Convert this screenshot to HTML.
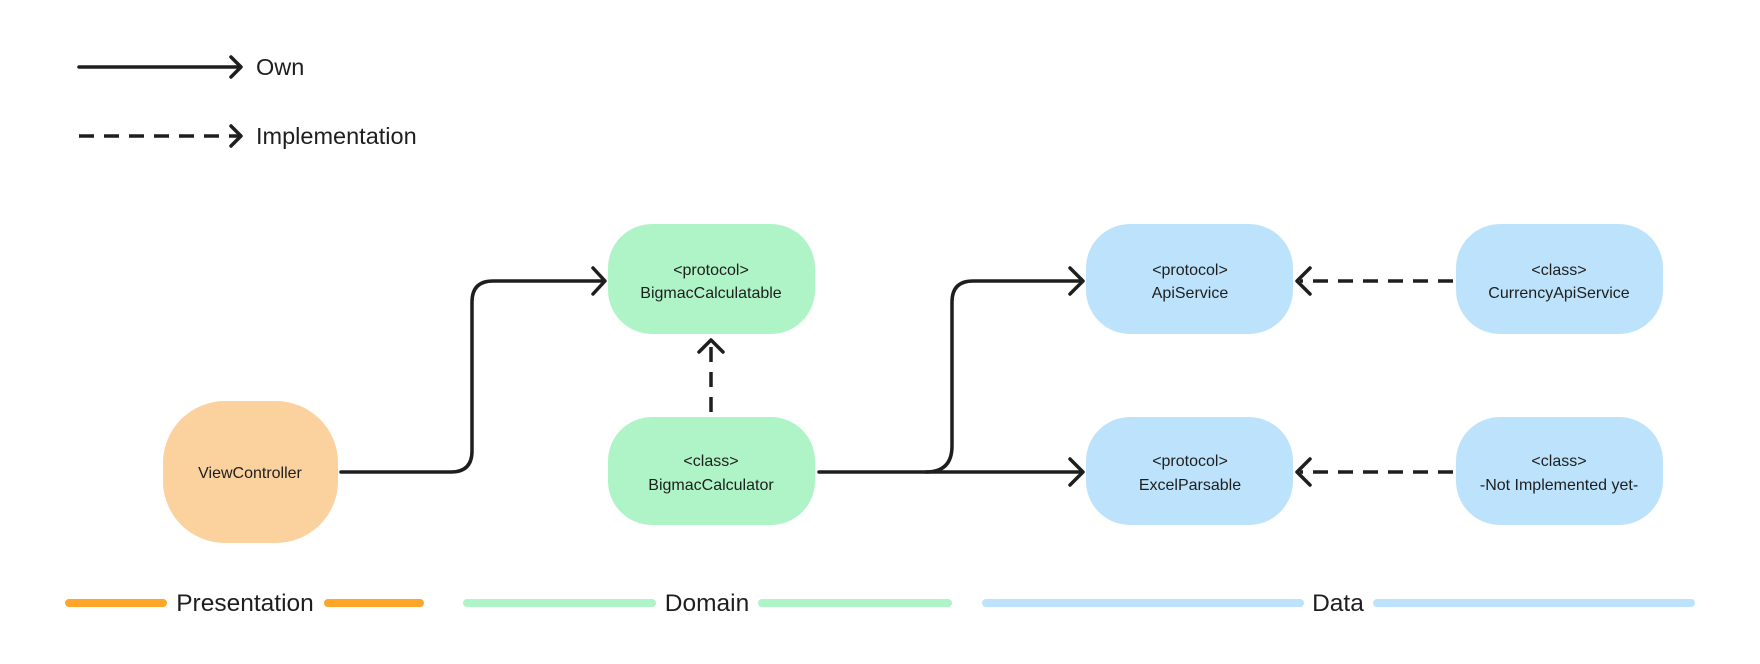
<!DOCTYPE html>
<html><head><style>html,body{margin:0;padding:0;background:#fff}svg{display:block}text{font-family:"Liberation Sans",sans-serif;fill:#1e1e1e}</style></head><body>
<svg width="1760" height="664" viewBox="0 0 1760 664" xmlns="http://www.w3.org/2000/svg">
<g fill="none" stroke="#1e1e1e" stroke-width="3.5" stroke-linecap="round" stroke-linejoin="round">
<line x1="79" y1="67" x2="240" y2="67"/>
<polyline points="231,57 241,67 231,77"/>
<line x1="79" y1="136" x2="240" y2="136" stroke-dasharray="15,10" stroke-linecap="butt"/>
<polyline points="231,126 241,136 231,146"/>
<path d="M341 472 H451 Q472 472 472 451 V302 Q472 281 493 281 H604"/>
<polyline points="593,268 605,281 593,294"/>
<path d="M819 472 H1082"/>
<path d="M926 472 Q952 472 952 446 V302 Q952 281 973 281 H1082"/>
<polyline points="1070,268 1083,281 1070,294"/>
<polyline points="1070,459 1083,472 1070,485"/>
<line x1="711" y1="412" x2="711" y2="343" stroke-dasharray="15,10" stroke-linecap="butt"/>
<polyline points="699,352 711,340 723,352"/>
<line x1="1453" y1="281" x2="1300" y2="281" stroke-dasharray="15,10" stroke-linecap="butt"/>
<polyline points="1310,268 1297,281 1310,294"/>
<line x1="1453" y1="472" x2="1300" y2="472" stroke-dasharray="15,10" stroke-linecap="butt"/>
<polyline points="1310,459 1297,472 1310,485"/>
</g>
<text x="256" y="75" font-size="23.5">Own</text>
<text x="256" y="144" font-size="23.5">Implementation</text>
<rect x="163" y="401" width="175" height="142" rx="62" fill="#fbd19d"/>
<rect x="608" y="224" width="207" height="110" rx="44" fill="#aff4c6"/>
<rect x="608" y="417" width="207" height="108" rx="44" fill="#aff4c6"/>
<rect x="1086" y="224" width="207" height="110" rx="44" fill="#bde3fc"/>
<rect x="1086" y="417" width="207" height="108" rx="44" fill="#bde3fc"/>
<rect x="1456" y="224" width="207" height="110" rx="44" fill="#bde3fc"/>
<rect x="1456" y="417" width="207" height="108" rx="44" fill="#bde3fc"/>
<g font-size="16" text-anchor="middle">
<text x="250" y="478">ViewController</text>
<text x="711" y="275">&lt;protocol&gt;</text><text x="711" y="298">BigmacCalculatable</text>
<text x="711" y="466">&lt;class&gt;</text><text x="711" y="490">BigmacCalculator</text>
<text x="1190" y="275">&lt;protocol&gt;</text><text x="1190" y="298">ApiService</text>
<text x="1190" y="466">&lt;protocol&gt;</text><text x="1190" y="490">ExcelParsable</text>
<text x="1559" y="275">&lt;class&gt;</text><text x="1559" y="298">CurrencyApiService</text>
<text x="1559" y="466">&lt;class&gt;</text><text x="1559" y="490">-Not Implemented yet-</text>
</g>
<g stroke-width="8" stroke-linecap="round">
<line x1="69" y1="603" x2="163" y2="603" stroke="#ffa629"/>
<line x1="328" y1="603" x2="420" y2="603" stroke="#ffa629"/>
<line x1="467" y1="603" x2="652" y2="603" stroke="#aff4c6"/>
<line x1="762" y1="603" x2="948" y2="603" stroke="#aff4c6"/>
<line x1="986" y1="603" x2="1300" y2="603" stroke="#bde3fc"/>
<line x1="1377" y1="603" x2="1691" y2="603" stroke="#bde3fc"/>
</g>
<g font-size="24.5" text-anchor="middle">
<text x="245" y="611">Presentation</text>
<text x="707" y="611">Domain</text>
<text x="1338" y="611">Data</text>
</g>
</svg>
</body></html>
